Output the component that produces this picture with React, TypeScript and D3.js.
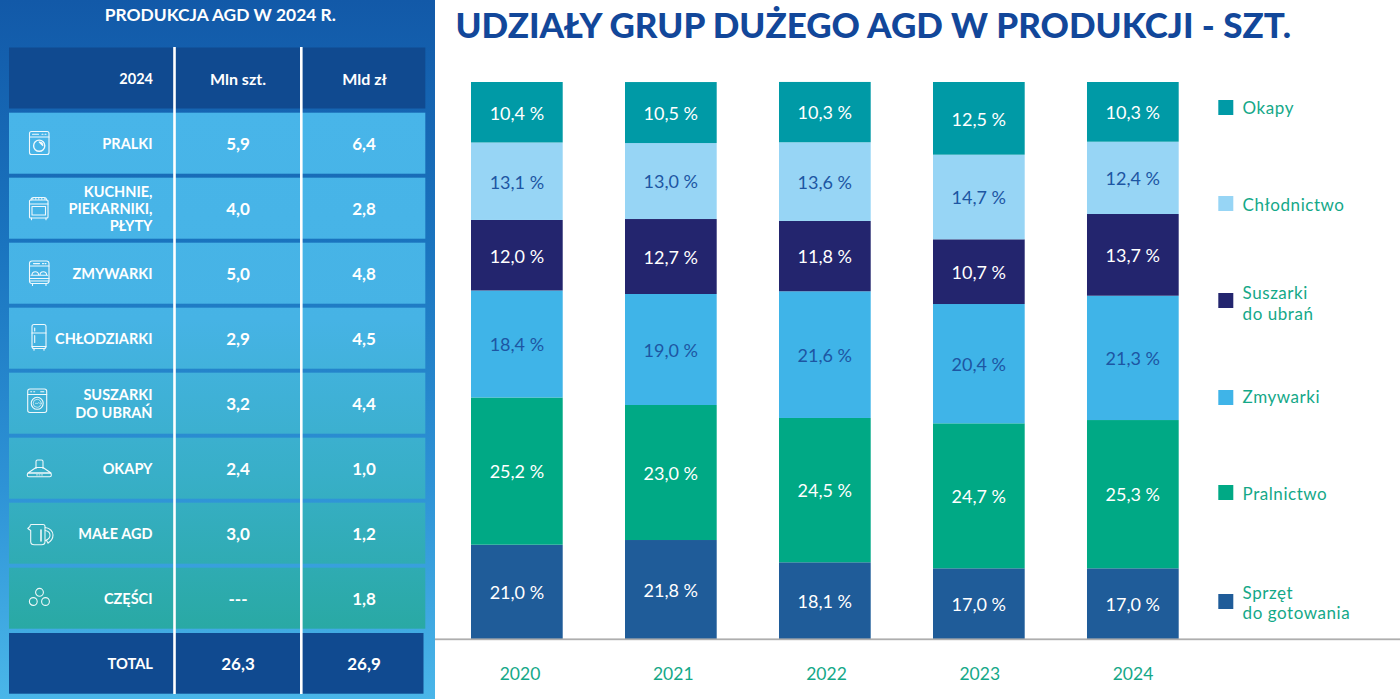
import React from "react";
import * as d3 from "d3";

const years = ["2020", "2021", "2022", "2023", "2024"];

// Printed labels (per cent), per group, 2020..2024
const gotowanieLabels = [21.0, 21.8, 18.1, 17.0, 17.0];
const pralnictwoLabels = [25.2, 23.0, 24.5, 24.7, 25.3];
const zmywarkiLabels = [18.4, 19.0, 21.6, 20.4, 21.3];
const suszarkiLabels = [12.0, 12.7, 11.8, 10.7, 13.7];
const chlodnictwoLabels = [13.1, 13.0, 13.6, 14.7, 12.4];
const okapyLabels = [10.4, 10.5, 10.3, 12.5, 10.3];

// Drawn heights (share of the full bar)
const gotowanieDrawn = [16.93, 17.77, 13.77, 12.69, 12.69];
const pralnictwoDrawn = [26.43, 24.24, 25.91, 26.03, 26.62];
const zmywarkiDrawn = [19.21, 19.93, 22.75, 21.42, 22.32];
const suszarkiDrawn = [12.66, 13.46, 12.62, 11.62, 14.67];
const chlodnictwoDrawn = [13.91, 13.64, 14.13, 15.19, 12.98];
const okapyDrawn = [10.86, 10.95, 10.83, 13.05, 10.72];

const seriesKeys = ["gotowanie", "pralnictwo", "zmywarki", "suszarki", "chlodnictwo", "okapy"];
const seriesColors = ["#1f5c99", "#00a985", "#3fb4e8", "#23256e", "#97d5f5", "#009aa6"];
const seriesTextColors = ["#ffffff", "#ffffff", "#1d56a3", "#ffffff", "#1d56a3", "#ffffff"];
const seriesLabels = [gotowanieLabels, pralnictwoLabels, zmywarkiLabels, suszarkiLabels, chlodnictwoLabels, okapyLabels];
const seriesDrawn = [gotowanieDrawn, pralnictwoDrawn, zmywarkiDrawn, suszarkiDrawn, chlodnictwoDrawn, okapyDrawn];

const legendNames = [["Sprzęt", "do gotowania"], ["Pralnictwo"], ["Zmywarki"], ["Suszarki", "do ubrań"], ["Chłodnictwo"], ["Okapy"]];
const legendSwatchTop = [594, 485, 390, 293, 196, 100];
const legendBaselines = [[598.7, 619], [499.5], [403], [299, 319.5], [211], [114]];

const tableNames = [["PRALKI"], ["KUCHNIE,", "PIEKARNIKI,", "PŁYTY"], ["ZMYWARKI"], ["CHŁODZIARKI"], ["SUSZARKI", "DO UBRAŃ"], ["OKAPY"], ["MAŁE AGD"], ["CZĘŚCI"]];
const tableUnits = ["5,9", "4,0", "5,0", "2,9", "3,2", "2,4", "3,0", "---"];
const tableValues = ["6,4", "2,8", "4,8", "4,5", "4,4", "1,0", "1,2", "1,8"];
const totalRow = ["TOTAL", "26,3", "26,9"];
const headerRow = ["2024", "Mln szt.", "Mld zł"];

const FONT = "Lato, sans-serif";

const y = d3.scaleLinear().domain([0, 100]).range([639, 82]);
const x = d3.scaleBand().domain(years).range([471, 1178.7]).paddingInner(0.4045).paddingOuter(0);
const xTick = d3.scalePoint().domain(years).range([520, 1133]);

const rowTop = d3.scaleLinear().domain([0, 1]).range([112.7, 177.7]);

const ic = { fill: "none", stroke: "#fff", strokeWidth: 1.1, strokeLinejoin: "round" as const, strokeLinecap: "round" as const, opacity: 0.92 };

function Washer() {
  return (
    <g transform="translate(29.5,131.5)" {...ic}>
      <rect x={0} y={0} width={19.5} height={23} rx={2} />
      <path d="M0 5.5H19.5" />
      <path d="M3 2.7H9M12.5 2.7h1M15.5 2.7h1" />
      <circle cx={9.7} cy={14.2} r={5.6} strokeWidth={1.4} />
      <path d="M9.7 10.5a3.7 3.7 0 0 1 3.6 3.7z" fill="#fff" />
    </g>
  );
}
function Stove() {
  return (
    <g transform="translate(29.5,196)" {...ic}>
      <path d="M1.5 4a2.5 2.5 0 0 1 2.5-2.5h10.5a2.5 2.5 0 0 1 2.5 2.5" />
      <rect x={0} y={4} width={18.5} height={18} rx={1} />
      <path d="M3 2.9h.5M6 2.9h.5M9 2.9h.5M12 2.9h.5M15 2.9h.5" />
      <path d="M0 8H18.5M2 9.8" />
      <rect x={2.5} y={10.5} width={13.5} height={8.5} />
      <path d="M2 22v1.7M16.5 22v1.7" />
    </g>
  );
}
function Dishwasher() {
  return (
    <g transform="translate(29.5,261)" {...ic}>
      <rect x={0} y={0} width={19.5} height={22.5} rx={2.5} />
      <path d="M0 5H19.5M0 17.5H19.5M0 20H19.5" />
      <path d="M4 2.6h6M13 2.6h1M15.5 2.6h1" />
      <path d="M2.5 14a3.3 3.3 0 0 1 6.6 0M10.5 14a3.3 3.3 0 0 1 6.6 0M1.5 14.2h16.5" />
      <path d="M3 22.5v2M16.5 22.5v2" />
    </g>
  );
}
function Fridge() {
  return (
    <g transform="translate(32,324.5)" {...ic}>
      <rect x={0} y={0} width={14} height={24} rx={2} />
      <path d="M0 8.5H14" />
      <path d="M2.7 3.5v3M2.7 11v7" />
      <path d="M2 24v1.7M12 24v1.7M0 22H14" />
    </g>
  );
}
function Dryer() {
  return (
    <g transform="translate(27.7,389)" {...ic}>
      <rect x={0} y={0} width={19} height={23.5} rx={2.2} />
      <path d="M0 5.5H19" />
      <path d="M3 2.7h1M6 2.7h1M13 2.7h3.2" />
      <circle cx={9.5} cy={14.3} r={6} />
      <circle cx={9.5} cy={14.3} r={4} strokeWidth={0.7} />
      <path d="M7.5 14.5c1-1.5 1.7 1.2 2.6-.3s1.3.8 1.9 0" strokeWidth={0.7} />
    </g>
  );
}
function Hood() {
  return (
    <g transform="translate(27,459.5)" {...ic}>
      <path d="M9 9V2a1.5 1.5 0 0 1 1.5-1.5h4A1.5 1.5 0 0 1 16 2V9" />
      <path d="M9 8 L1 13.5H24 L16 8z" />
      <rect x={0.3} y={13.5} width={24} height={3.8} rx={1.5} />
      <path d="M9.5 15.4h1M12 15.4h1M14.5 15.4h1" strokeWidth={0.8} />
    </g>
  );
}
function Kettle() {
  return (
    <g transform="translate(27.5,524)" {...ic}>
      <path d="M0.3 4.5 L2.5 2.3 C2.5 1 3 .5 4 .5 H15.5 C16.8 .5 17.5 1.2 17.5 2.5 V17.5 C17.5 19.7 16 20.8 14 20.8 H6.8 C4.6 20.8 3.2 19.5 3.2 17.5 V6.5 Z" />
      <path d="M13.5 6v11" strokeWidth={1.6} />
      <path d="M17.8 3.5C22.5 4 25.5 7.5 25.5 11S23 17.5 20.5 19" />
      <path d="M17.8 6.5C20.5 7 22.5 9 22.5 11.3S20.5 15.5 18 16.5" />
      <path d="M20.5 19l-1.5-2.5" />
    </g>
  );
}
function Parts() {
  return (
    <g transform="translate(29,588)" {...ic}>
      <circle cx={10.5} cy={4.3} r={3.9} />
      <circle cx={4.3} cy={13.5} r={3.9} />
      <circle cx={16.5} cy={13.5} r={3.9} />
    </g>
  );
}

export default function App() {
  const stacks = years.map((yr, yi) => {
    let acc = 0;
    return seriesKeys.map((key, si) => {
      const y0 = acc;
      acc += seriesDrawn[si][yi];
      return { key, si, yr, y0, y1: acc, label: seriesLabels[si][yi] };
    });
  });
  const fmt = (v: number) => v.toFixed(1).replace(".", ",") + " %";
  const labelSize = 18;

  return (
    <svg width={1400} height={699} style={{ position: "absolute", left: 0, top: 0, display: "block" }} fontFamily={FONT}>
      <defs>
        <linearGradient id="panel" x1="0" y1="0" x2="0" y2="699" gradientUnits="userSpaceOnUse">
          <stop offset="0" stopColor="#1259a8" />
          <stop offset="0.35" stopColor="#1a74bf" />
          <stop offset="0.7" stopColor="#2e93d6" />
          <stop offset="1" stopColor="#4ab6e9" />
        </linearGradient>
        <linearGradient id="rows" x1="0" y1="112" x2="0" y2="629" gradientUnits="userSpaceOnUse">
          <stop offset="0" stopColor="#48b5e9" />
          <stop offset="0.4" stopColor="#46b3e5" />
          <stop offset="0.7" stopColor="#38afc8" />
          <stop offset="1" stopColor="#29a9a4" />
        </linearGradient>
      </defs>
      <rect x={0} y={0} width={1400} height={699} fill="#fff" />

      {/* left panel */}
      <rect x={0} y={0} width={435} height={699} fill="url(#panel)" />
      <text x={220.3} y={20.7} textAnchor="middle" fill="#fff" fontSize={17.4} fontWeight={700}>PRODUKCJA AGD W 2024 R.</text>
      <rect x={9} y={47.5} width={416.3} height={61} fill="#104a90" />
      {tableNames.map((_, i) => (
        <rect key={i} x={9} y={rowTop(i)} width={416.3} height={61} fill="url(#rows)" />
      ))}
      <rect x={9} y={633} width={414.5} height={60.7} fill="#104a90" />
      <rect x={173.2} y={47} width={2.6} height={647} fill="#fff" />
      <rect x={300} y={47} width={2.6} height={647} fill="#fff" />

      <text x={153} y={83.8} textAnchor="end" fill="#fff" fontSize={14.5} fontWeight={700}>{headerRow[0]}</text>
      <text x={238} y={84.5} textAnchor="middle" fill="#fff" fontSize={16} fontWeight={700}>{headerRow[1]}</text>
      <text x={364.5} y={84.5} textAnchor="middle" fill="#fff" fontSize={16} fontWeight={700}>{headerRow[2]}</text>

      {tableNames.map((lines, i) => {
        const cy = rowTop(i) + 30.5;
        const lh = 17.4;
        const base = cy + 5.7 - ((lines.length - 1) * lh) / 2;
        return (
          <g key={i}>
            <text textAnchor="end" fill="#fff" fontSize={14.5} fontWeight={700}>
              {lines.map((l, k) => (
                <tspan key={k} x={152.5} y={base + k * lh}>{l}</tspan>
              ))}
            </text>
            <text x={238} y={cy + 6.7} textAnchor="middle" fill="#fff" fontSize={17} fontWeight={700}>{tableUnits[i]}</text>
            <text x={364} y={cy + 6.7} textAnchor="middle" fill="#fff" fontSize={17} fontWeight={700}>{tableValues[i]}</text>
          </g>
        );
      })}
      <text x={153} y={669.3} textAnchor="end" fill="#fff" fontSize={14.7} fontWeight={700}>{totalRow[0]}</text>
      <text x={238} y={669.5} textAnchor="middle" fill="#fff" fontSize={17} fontWeight={700}>{totalRow[1]}</text>
      <text x={364} y={669.5} textAnchor="middle" fill="#fff" fontSize={17} fontWeight={700}>{totalRow[2]}</text>

      <Washer /><Stove /><Dishwasher /><Fridge /><Dryer /><Hood /><Kettle /><Parts />

      {/* title */}
      <text x={455.5} y={38} fill="#12479a" fontSize={35} fontWeight={900}>UDZIAŁY GRUP DUŻEGO AGD W PRODUKCJI - SZT.</text>

      {/* bars */}
      {stacks.flat().map((d) => (
        <rect key={d.key + d.yr} x={x(d.yr)} y={y(d.y1)} width={x.bandwidth()} height={y(d.y0) - y(d.y1)} fill={seriesColors[d.si]} />
      ))}
      {stacks.flat().map((d) => (
        <text key={d.key + d.yr + "t"} x={(x(d.yr) as number) + x.bandwidth() / 2} y={(y(d.y0) + y(d.y1)) / 2 + 7.3} textAnchor="middle" fill={seriesTextColors[d.si]} fontSize={labelSize}>
          {fmt(d.label)}
        </text>
      ))}
      <rect x={435} y={638.4} width={965} height={1.8} fill="#aeaeae" />
      {years.map((yr) => (
        <text key={yr} x={xTick(yr)} y={680} textAnchor="middle" fill="#14a888" fontSize={17.5}>{yr}</text>
      ))}

      {/* legend */}
      {seriesKeys.map((key, si) => (
        <g key={key}>
          <rect x={1218.3} y={legendSwatchTop[si]} width={15} height={15} fill={seriesColors[si]} />
          {legendNames[si].map((t, k) => (
            <text key={k} x={1242.6} y={legendBaselines[si][k]} fill="#14a888" fontSize={17} letterSpacing={0.55}>{t}</text>
          ))}
        </g>
      ))}
    </svg>
  );
}
